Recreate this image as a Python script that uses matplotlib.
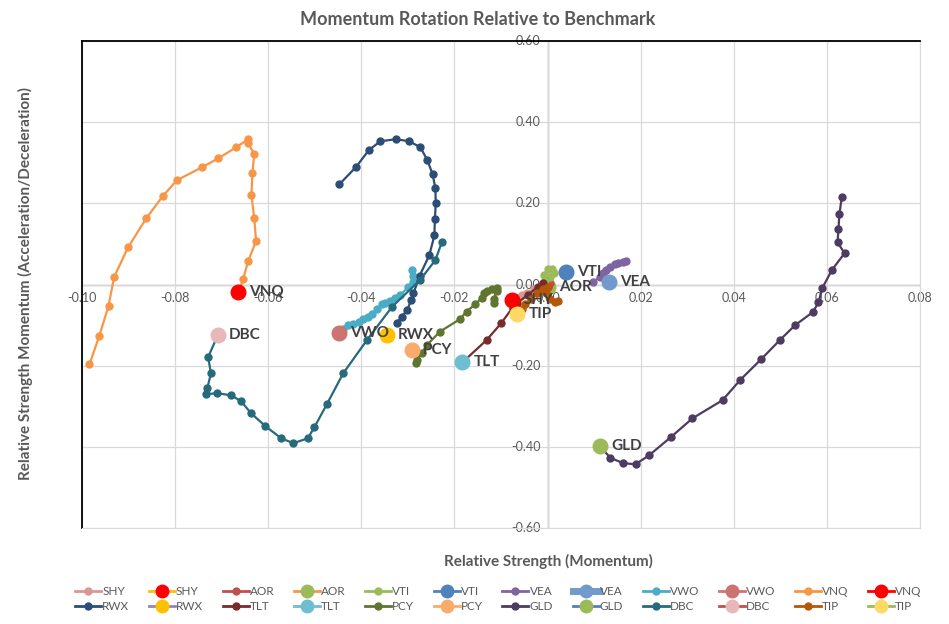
import matplotlib.pyplot as plt
from matplotlib.lines import Line2D

# Trails (oldest -> newest)
shy_x = [-0.0030, -0.0045, -0.0055, -0.0065, -0.0076]
shy_y = [-0.012, -0.020, -0.026, -0.032, -0.038]

aor_x = [0.0005, 0.0000, -0.0008, -0.0010, -0.0005, 0.0000]
aor_y = [0.004, -0.002, -0.008, -0.015, -0.010, -0.005]

vti_x = [-0.0007, 0.0000, 0.0010, 0.0013, 0.0006, -0.0005, -0.0012]
vti_y = [0.024, 0.037, 0.037, 0.028, 0.019, 0.010, 0.002]

vea_x = [0.0169, 0.0163, 0.0152, 0.0145, 0.0134, 0.0126, 0.0120, 0.0113, 0.0098]
vea_y = [0.059, 0.056, 0.054, 0.050, 0.044, 0.036, 0.028, 0.018, 0.007]

vwo_x = [-0.0291, -0.0290, -0.0290, -0.0299, -0.0317, -0.0328, -0.0338, -0.0349,
         -0.0356, -0.0366, -0.0376, -0.0385, -0.0396, -0.0406, -0.0417, -0.0428, -0.0439]
vwo_y = [0.036, 0.022, 0.005, -0.007, -0.026, -0.034, -0.040, -0.045,
         -0.048, -0.060, -0.073, -0.079, -0.086, -0.092, -0.097, -0.100, -0.110]

vnq_x = [-0.0984, -0.0963, -0.0943, -0.0931, -0.0901, -0.0862, -0.0827, -0.0796, -0.0742,
         -0.0707, -0.0669, -0.0643, -0.0643, -0.0630, -0.0634, -0.0636, -0.0630, -0.0626,
         -0.0643, -0.0654, -0.0664]
vnq_y = [-0.197, -0.127, -0.053, 0.0185, 0.0916, 0.163, 0.217, 0.257, 0.289,
         0.311, 0.338, 0.358, 0.348, 0.321, 0.274, 0.220, 0.163, 0.107,
         0.0579, 0.0128, -0.019]

rwx_x = [-0.0447, -0.0411, -0.0384, -0.0359, -0.0326, -0.0297, -0.0273, -0.0258, -0.0247,
         -0.0241, -0.0240, -0.0242, -0.0243, -0.0254, -0.0275, -0.0288, -0.0293, -0.0301,
         -0.0313, -0.0324]
rwx_y = [0.247, 0.290, 0.331, 0.353, 0.358, 0.353, 0.338, 0.306, 0.272,
         0.238, 0.200, 0.162, 0.121, 0.072, 0.021, -0.022, -0.038, -0.062,
         -0.079, -0.095]

tlt_x = [-0.0009, -0.0020, -0.0043, -0.0065, -0.0075, -0.0100, -0.0131, -0.0183]
tlt_y = [0.003, -0.005, -0.026, -0.046, -0.057, -0.096, -0.137, -0.192]

pcy_x = [-0.0114, -0.0116, -0.0108, -0.0109, -0.0120, -0.0129, -0.0136, -0.0140, -0.0156,
         -0.0174, -0.0189, -0.0231, -0.0259, -0.0270, -0.0280, -0.0282]
pcy_y = [-0.046, -0.035, -0.016, -0.009, -0.012, -0.015, -0.020, -0.032, -0.049,
         -0.067, -0.086, -0.116, -0.149, -0.168, -0.186, -0.194]

gld_x = [0.0632, 0.0627, 0.0625, 0.0623, 0.0638, 0.0611, 0.0590, 0.0582, 0.0570, 0.0532,
         0.0499, 0.0459, 0.0414, 0.0376, 0.0311, 0.0265, 0.0218, 0.0189, 0.0162, 0.0135, 0.0113]
gld_y = [0.2155, 0.173, 0.138, 0.104, 0.077, 0.036, -0.009, -0.044, -0.068, -0.100,
         -0.137, -0.184, -0.235, -0.285, -0.330, -0.376, -0.421, -0.443, -0.440, -0.427, -0.399]

dbc_x = [-0.0227, -0.0241, -0.0274, -0.0334, -0.0388, -0.0439, -0.0474, -0.0501, -0.0515,
         -0.0546, -0.0572, -0.0606, -0.0637, -0.0658, -0.0679, -0.0709, -0.0734, -0.0731,
         -0.0723, -0.0729, -0.0708]
dbc_y = [0.104, 0.060, 0.011, -0.055, -0.137, -0.219, -0.295, -0.352, -0.379,
         -0.391, -0.379, -0.349, -0.317, -0.288, -0.273, -0.268, -0.270, -0.256,
         -0.219, -0.179, -0.124]

tip_x = [0.0022, 0.0015, 0.0005, -0.0003, 0.0000, -0.0010, -0.0022, -0.0035, -0.0048, -0.0055]
tip_y = [-0.040, -0.042, -0.035, -0.020, -0.005, -0.010, -0.022, -0.035, -0.048, -0.060]

# Current positions (heads)
tickers = ["SHY", "AOR", "VTI", "VEA", "VWO", "VNQ", "RWX", "TLT", "PCY", "GLD", "DBC", "TIP"]
head_x = [-0.0076, 0.0000, 0.0040, 0.0131, -0.0449, -0.0664, -0.0345, -0.0183, -0.0292, 0.0113, -0.0708, -0.0065]
head_y = [-0.038, -0.006, 0.030, 0.007, -0.120, -0.019, -0.124, -0.192, -0.161, -0.399, -0.124, -0.073]

trails = {
    "SHY": (shy_x, shy_y), "AOR": (aor_x, aor_y), "VTI": (vti_x, vti_y),
    "VEA": (vea_x, vea_y), "VWO": (vwo_x, vwo_y), "VNQ": (vnq_x, vnq_y),
    "RWX": (rwx_x, rwx_y), "TLT": (tlt_x, tlt_y), "PCY": (pcy_x, pcy_y),
    "GLD": (gld_x, gld_y), "DBC": (dbc_x, dbc_y), "TIP": (tip_x, tip_y),
}

# colores estilo Excel
trail_col = {"SHY": "#D99694", "AOR": "#C0504D", "VTI": "#9BBB59", "VEA": "#8064A2",
             "VWO": "#4BACC6", "VNQ": "#F79646", "RWX": "#2C4D75", "TLT": "#772C2A",
             "PCY": "#5F7530", "GLD": "#4D3B62", "DBC": "#276A7C", "TIP": "#B65708"}
head_col = {"SHY": "#FF0000", "AOR": "#9BBB59", "VTI": "#4F81BD", "VEA": "#729ACA",
            "VWO": "#CD7371", "VNQ": "#FF0000", "RWX": "#FFC000", "TLT": "#6FBDD1",
            "PCY": "#F9AB6B", "GLD": "#9BBB59", "DBC": "#E6B9B8", "TIP": "#FFD966"}
head_line = {"SHY": "#FFC000", "AOR": "#F79646", "VTI": "#4F81BD", "VEA": "#729ACA",
             "VWO": "#CD7371", "VNQ": "#FF0000", "RWX": "#9983B5", "TLT": "#6FBDD1",
             "PCY": "#F9AB6B", "GLD": "#4F81BD", "DBC": "#C0504D", "TIP": "#9BBB59"}

plt.rcParams["font.family"] = ["Lato", "DejaVu Sans"]

fig = plt.figure(figsize=(9.49, 6.24), dpi=100)
ax = fig.add_axes([0.0864, 0.1538, 0.8830, 0.7805])

ax.set_xlim(-0.10, 0.08)
ax.set_ylim(-0.60, 0.60)
ax.set_xticks([-0.10, -0.08, -0.06, -0.04, -0.02, 0.00, 0.02, 0.04, 0.06, 0.08])
ax.set_yticks([-0.60, -0.40, -0.20, 0.00, 0.20, 0.40, 0.60])
ax.grid(True, color="#D9D9D9", linewidth=0.9, zorder=0)
ax.tick_params(length=0, labelbottom=False, labelleft=False)

for s in ["bottom", "right"]:
    ax.spines[s].set_color("#D9D9D9")
for s in ["top", "left"]:
    ax.spines[s].set_color("black")
    ax.spines[s].set_linewidth(1.3)

ax.axhline(0, color="#A6A6A6", linewidth=1.0, zorder=1)
ax.axvline(0, color="#A6A6A6", linewidth=1.0, zorder=1)

# etiquetas de ejes cruzando en el origen
for xv in ax.get_xticks():
    ax.annotate(f"{xv:.2f}", (xv, 0), xytext=(0, -10), textcoords="offset points",
                ha="center", va="center", fontsize=9, color="#595959", zorder=2)
for yv in ax.get_yticks():
    ax.annotate(f"{yv:.2f}", (0, yv), xytext=(-5, 0), textcoords="offset points",
                ha="right", va="center", fontsize=9, color="#595959", zorder=2)

for t in tickers:
    tx, ty = trails[t]
    ax.plot(tx, ty, "-o", color=trail_col[t], markersize=5, linewidth=1.6, zorder=3)

for i, t in enumerate(tickers):
    # AOR queda tapado por las colas en el original
    z = 2.5 if t == "AOR" else 5
    ax.plot(head_x[i], head_y[i], "o", color=head_col[t], markersize=10.5, zorder=z)
    ax.annotate(t, (head_x[i], head_y[i]), xytext=(8, 0), textcoords="offset points",
                ha="left", va="center", fontsize=11, fontweight="bold", color="#404040", zorder=6)

fig.text(0.503, 0.968, "Momentum Rotation Relative to Benchmark", ha="center", va="center",
         fontsize=13, fontweight="bold", color="#595959")
fig.text(0.578, 0.101, "Relative Strength (Momentum)", ha="center", va="center",
         fontsize=11, fontweight="bold", color="#595959")
fig.text(0.027, 0.545, "Relative Strength Momentum (Acceleration/Deceleration)", ha="center",
         va="center", rotation=90, fontsize=11, fontweight="bold", color="#595959")

# leyenda: dos filas, 12 columnas
row1 = ["SHY", "AOR", "VTI", "VEA", "VWO", "VNQ"]
row2 = ["RWX", "TLT", "PCY", "GLD", "DBC", "TIP"]
top_h, bot_h = [], []
for t in row1:
    top_h.append((Line2D([], [], color=trail_col[t], marker="o", markersize=5, linewidth=2), t))
    lw = 5 if t == "VEA" else 2
    top_h.append((Line2D([], [], color=head_line[t], marker="o", markerfacecolor=head_col[t],
                         markeredgecolor=head_col[t], markersize=9, linewidth=lw), t))
for t in row2:
    bot_h.append((Line2D([], [], color=trail_col[t], marker="o", markersize=5, linewidth=2), t))
    bot_h.append((Line2D([], [], color=head_line[t], marker="o", markerfacecolor=head_col[t],
                         markeredgecolor=head_col[t], markersize=9, linewidth=2), t))
handles, labels = [], []
for a, b in zip(top_h, bot_h):
    handles += [a[0], b[0]]
    labels += [a[1], b[1]]
fig.legend(handles, labels, ncol=12, loc="center", bbox_to_anchor=(0.525, 0.04),
           frameon=False, fontsize=8.5, labelcolor="#595959", handlelength=2.2,
           handletextpad=0.1, columnspacing=1.65, labelspacing=0.3)

plt.savefig("out.png", dpi=100)
